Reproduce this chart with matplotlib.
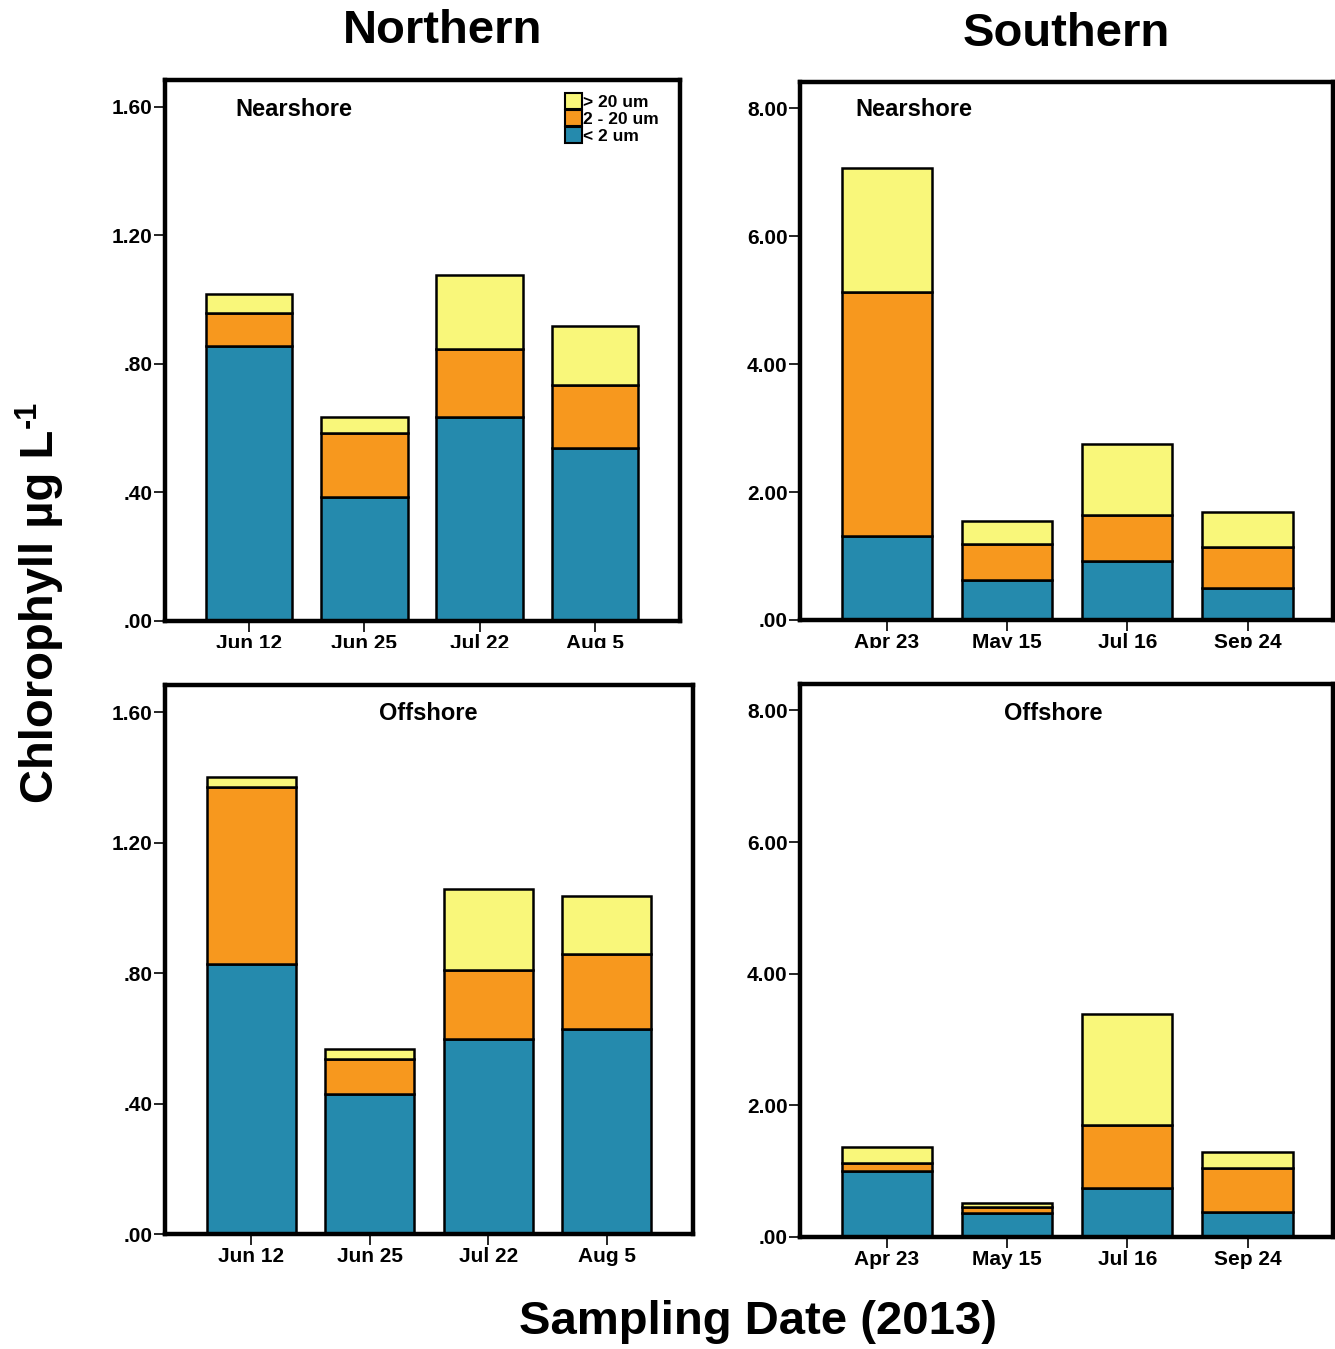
import matplotlib
matplotlib.use("Agg")
import matplotlib.pyplot as plt
from matplotlib.patches import Patch
from matplotlib.transforms import Bbox
import numpy as np

plt.rcParams['font.family'] = ['Liberation Sans', 'DejaVu Sans']
plt.rcParams['font.weight'] = 'bold'

W, H = 1335, 1349

# ---------------- data ----------------
north_dates = ["Jun 12", "Jun 25", "Jul 22", "Aug 5"]
south_dates = ["Apr 23", "May 15", "Jul 16", "Sep 24"]

# Northern Nearshore
nn_small = [0.855, 0.387, 0.636, 0.537]
nn_mid = [0.103, 0.199, 0.212, 0.199]
nn_large = [0.059, 0.050, 0.228, 0.181]

# Northern Offshore
no_small = [0.828, 0.428, 0.597, 0.628]
no_mid = [0.541, 0.110, 0.212, 0.230]
no_large = [0.031, 0.028, 0.249, 0.179]

# Southern Nearshore
sn_small = [1.31, 0.63, 0.92, 0.50]
sn_mid = [3.81, 0.56, 0.72, 0.64]
sn_large = [1.94, 0.36, 1.11, 0.55]

# Southern Offshore
so_small = [1.00, 0.365, 0.745, 0.38]
so_mid = [0.13, 0.091, 0.955, 0.67]
so_large = [0.24, 0.064, 1.69, 0.24]

north_yticks = [0.0, 0.4, 0.8, 1.2, 1.6]
north_yticklabels = [".00", ".40", ".80", "1.20", "1.60"]
south_yticks = [0.0, 2.0, 4.0, 6.0, 8.0]
south_yticklabels = [".00", "2.00", "4.00", "6.00", "8.00"]

size_labels = ["> 20 um", "2 - 20 um", "< 2 um"]
c_small = "#258AAD"
c_mid = "#F7981E"
c_large = "#F9F77A"

fig = plt.figure(figsize=(W / 100, H / 100), dpi=100)


def add_ax(l, r, t, b):
    return fig.add_axes([l / W, 1 - b / H, (r - l) / W, (b - t) / H])


def draw(ax, dates, small, mid, large, yticks, yticklabels, ylim, xlim):
    x = np.arange(len(dates))
    small = np.array(small); mid = np.array(mid); large = np.array(large)
    kw = dict(width=0.75, edgecolor="black", linewidth=1.8, zorder=2)
    ax.bar(x, small, color=c_small, **kw)
    ax.bar(x, mid, bottom=small, color=c_mid, **kw)
    ax.bar(x, large, bottom=small + mid, color=c_large, **kw)
    ax.set_xlim(*xlim)
    ax.set_ylim(0, ylim)
    ax.set_xticks(x)
    ax.set_xticklabels(dates, fontsize=15, fontweight="bold")
    ax.set_yticks(yticks)
    ax.set_yticklabels(yticklabels, fontsize=15, fontweight="bold")
    for s in ax.spines.values():
        s.set_linewidth(3.2)
    ax.tick_params(axis="both", direction="out", length=8, width=1.2)
    ax.tick_params(axis="x", pad=1.5)
    ax.tick_params(axis="y", pad=1)


ax_tl = add_ax(165, 680, 80, 621)
ax_tr = add_ax(800, 1333, 82, 620)
ax_bl = add_ax(165, 693, 685, 1234)
ax_br = add_ax(800, 1333, 684, 1237)

draw(ax_tl, north_dates, nn_small, nn_mid, nn_large, north_yticks, north_yticklabels, 1.684, (-0.73, 3.74))
draw(ax_bl, north_dates, no_small, no_mid, no_large, north_yticks, north_yticklabels, 1.683, (-0.73, 3.73))
draw(ax_tr, south_dates, sn_small, sn_mid, sn_large, south_yticks, south_yticklabels, 8.41, (-0.72, 3.71))
draw(ax_br, south_dates, so_small, so_mid, so_large, south_yticks, south_yticklabels, 8.40, (-0.72, 3.71))

# clip the top row date labels as in the reference
clipbox = Bbox.from_extents(0, H - 648, W, H)
for ax in (ax_tl, ax_tr):
    for lab in ax.get_xticklabels():
        lab.set_clip_on(True)
        lab.set_clip_box(clipbox)

# legend
handles = [Patch(facecolor=c_large, edgecolor="black", linewidth=1.5),
           Patch(facecolor=c_mid, edgecolor="black", linewidth=1.5),
           Patch(facecolor=c_small, edgecolor="black", linewidth=1.5)]
ax_tl.legend(handles, size_labels, loc="upper right",
             bbox_to_anchor=((659 - 165) / 515, (621 - 93) / 541),
             frameon=False, labelspacing=0.0, handlelength=0.95,
             handleheight=1.05, handletextpad=0.1, borderpad=0, borderaxespad=0,
             prop={"weight": "bold", "size": 12.5})


def ftext(x, y, s, **kw):
    return fig.text(x / W, 1 - y / H, s, **kw)


ftext(235, 110, "Nearshore", fontsize=17, fontweight="bold", ha="left", va="center")
ftext(855, 110, "Nearshore", fontsize=17, fontweight="bold", ha="left", va="center")
ftext(428, 713, "Offshore", fontsize=17, fontweight="bold", ha="center", va="center")
ftext(1053, 713, "Offshore", fontsize=17, fontweight="bold", ha="center", va="center")

ftext(443, 31, "Northern", fontsize=34, fontweight="bold", ha="center", va="center")
ftext(1066, 34, "Southern", fontsize=34, fontweight="bold", ha="center", va="center")
ftext(758, 1322, "Sampling Date (2013)", fontsize=34, fontweight="bold", ha="center", va="center")

# rotated y label with a small superscript "-1"
ylab = ftext(53, 803, "Chlorophyll µg L", fontsize=34, fontweight="bold",
             ha="left", va="baseline", rotation=90, rotation_mode="anchor")
renderer = fig.canvas.get_renderer()
bb = ylab.get_window_extent(renderer)
top_px = H - bb.y1
ftext(36, top_px - 2, "-1", fontsize=22, fontweight="bold",
      ha="left", va="baseline", rotation=90, rotation_mode="anchor")

fig.savefig("out.png", dpi=100)
